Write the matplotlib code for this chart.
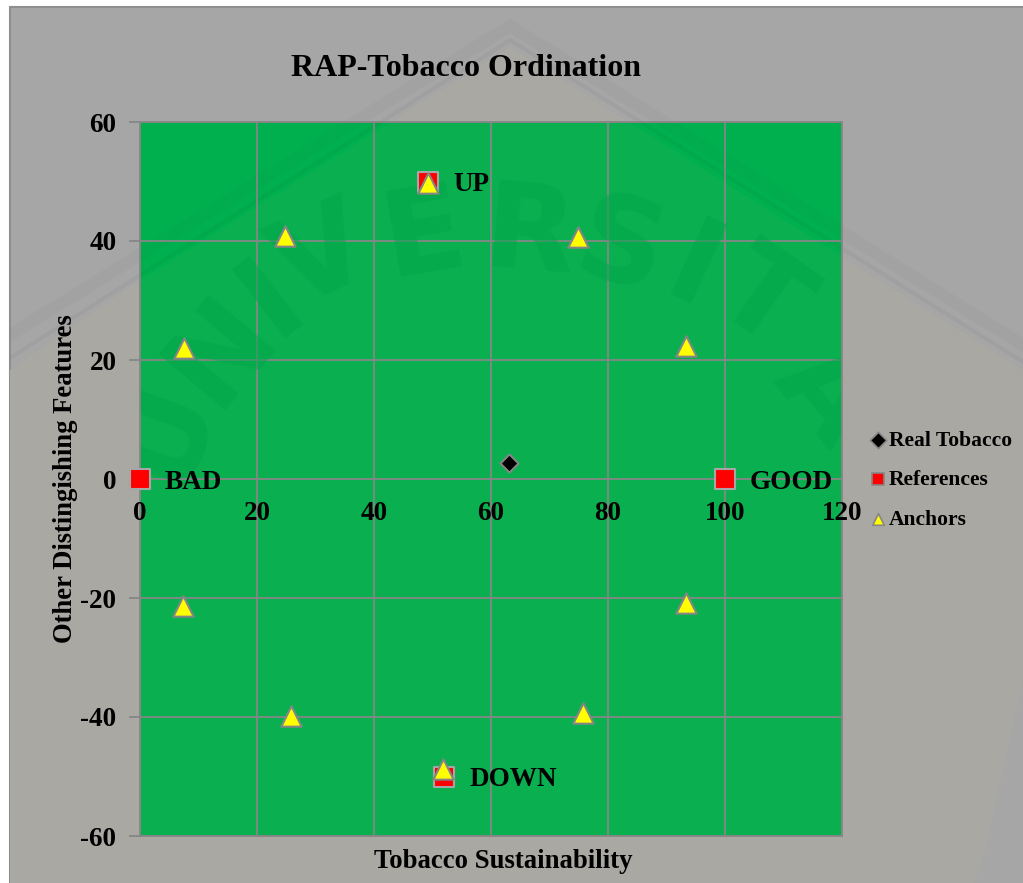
#!/usr/bin/env python3
"""RAP-Tobacco ordination scatter."""

import matplotlib
matplotlib.use('Agg')
import matplotlib.pyplot as plt
from matplotlib.patches import Polygon, Rectangle

plt.rcParams['font.family'] = ['Liberation Serif', 'DejaVu Serif']
plt.rcParams['font.weight'] = 'bold'
plt.rcParams['axes.unicode_minus'] = False

# data
real_x = [63.0]
real_y = [2.7]
ref_x = [0, 100, 49.3, 52.0]
ref_y = [0, 0, 50, -50]
anchor_x = [24.8, 74.9, 7.5, 93.3, 7.4, 93.3, 25.8, 75.7, 49.3, 51.8]
anchor_y = [40.8, 40.7, 22, 22.3, -21.3, -20.9, -39.8, -39.3, 49.7, -48.7]
ref_names = ['BAD', 'GOOD', 'UP', 'DOWN']
x_ticks = [0, 20, 40, 60, 80, 100, 120]
y_ticks = [-60, -40, -20, 0, 20, 40, 60]

W, H = 1023, 883
GRID = '#868686'
# 水印（像素坐标）
shield = [(10, 370), (130, 287), (510, 47), (890, 287), (1023, 370),
          (1023, 680), (985, 850), (975, 883), (10, 883)]
roof_outer = [(10, 335), (510, 26), (1023, 345)]
roof_inner = [(10, 358), (510, 40), (1023, 362)]
letters = [('U', 165, 430, 70), ('N', 222, 350, 50), ('I', 272, 298, 38), ('V', 322, 260, 25),
           ('E', 425, 237, 10), ('R', 530, 237, -5), ('S', 620, 250, -15), ('I', 693, 273, -25),
           ('T', 761, 300, -35), ('A', 825, 395, -50)]

fig = plt.figure(figsize=(W / 100, H / 100), dpi=100, facecolor='white')

# 背景
bg = fig.add_axes([0, 0, 1, 1], zorder=0)
bg.set_xlim(0, W)
bg.set_ylim(H, 0)
bg.axis('off')
panel = Rectangle((10, 7), W, H, fc='#a6a6a6', ec='#8f8f8f', lw=1.5)
bg.add_patch(panel)
warm = Polygon(shield, fc='#aaa8a2', ec='none')
bg.add_patch(warm)
for pts, alpha, lw in [(roof_outer, 0.02, 9), (roof_inner, 0.03, 3)]:
    line, = bg.plot(*zip(*pts), color='black', alpha=alpha, lw=lw, solid_joinstyle='miter')
    line.set_clip_path(panel)

# 主图
ax = fig.add_axes([140 / W, 1 - 836 / H, 702 / W, 714 / H], zorder=1)
ax.set_xlim(0, 120)
ax.set_ylim(-60, 60)
ax.set_facecolor('#00b04f')
ax.add_patch(Polygon(shield, fc='#0ab04f', ec='none', transform=bg.transData, zorder=0))
ax.plot(*zip(*roof_outer), color='black', alpha=0.02, lw=9, transform=bg.transData, zorder=0.2,
        scalex=False, scaley=False)
ax.plot(*zip(*roof_inner), color='black', alpha=0.03, lw=3, transform=bg.transData, zorder=0.2,
        scalex=False, scaley=False)
ax.grid(True, color=GRID, lw=1.3)
ax.set_axisbelow(True)
ax.set_xticks(x_ticks)
ax.set_yticks(y_ticks)
for name in ['top', 'right', 'bottom', 'left']:
    ax.spines[name].set_color(GRID)
    ax.spines[name].set_linewidth(1.3)
ax.tick_params(axis='y', length=8, width=1.3, color=GRID, labelsize=19.5, pad=9)
ax.tick_params(axis='x', length=0, labelbottom=False)
for v in x_ticks:
    ax.annotate(str(v), (v, 0), xytext=(0, -34), textcoords='offset pixels',
                ha='center', va='center', fontsize=19.5, annotation_clip=False)

# 水印文字
for ch, px, py, rot in letters:
    ax.text(px, py, ch, transform=bg.transData, rotation=rot, ha='center', va='center',
            fontsize=86, family='DejaVu Sans', color='#00a64b', alpha=0.55, zorder=1, clip_on=True)

ax.scatter(real_x, real_y, marker='D', s=85, c='black', edgecolors=GRID, linewidths=1.5,
           zorder=3, clip_on=False)
ax.scatter(ref_x, ref_y, marker='s', s=200, c='#ff0000', edgecolors='#a6a6a6', linewidths=1.5,
           zorder=3, clip_on=False)
ax.scatter(anchor_x, anchor_y, marker='^', s=215, c='#ffff00', edgecolors=GRID, linewidths=1.5,
           zorder=4, clip_on=False)

for x, y, name in zip(ref_x, ref_y, ref_names):
    ax.annotate(name, (x, y), xytext=(25, -3), textcoords='offset pixels',
                ha='left', va='center', fontsize=19.5, zorder=5)

fig.text(466 / W, 1 - 69 / H, 'RAP-Tobacco Ordination', ha='center', va='center', fontsize=23)
fig.text(503 / W, 1 - 861 / H, 'Tobacco Sustainability', ha='center', va='center', fontsize=19.3)
fig.text(66 / W, 1 - 479 / H, 'Other Distingishing Features', ha='center', va='center',
         rotation=90, fontsize=19.2)

# 图例
leg = fig.add_axes([0, 0, 1, 1], zorder=2)
leg.set_xlim(0, W)
leg.set_ylim(H, 0)
leg.axis('off')
legend_rows = [('Real Tobacco', 'D', 'black', 440), ('References', 's', '#ff0000', 479),
               ('Anchors', '^', '#ffff00', 519)]
for label, marker, color, py in legend_rows:
    leg.scatter([878], [py], marker=marker, s=70, c=color, edgecolors=GRID, linewidths=1.2)
    leg.text(889, py + 1, label, ha='left', va='center', fontsize=15.5)

fig.savefig('out.png', dpi=100, facecolor='white')
